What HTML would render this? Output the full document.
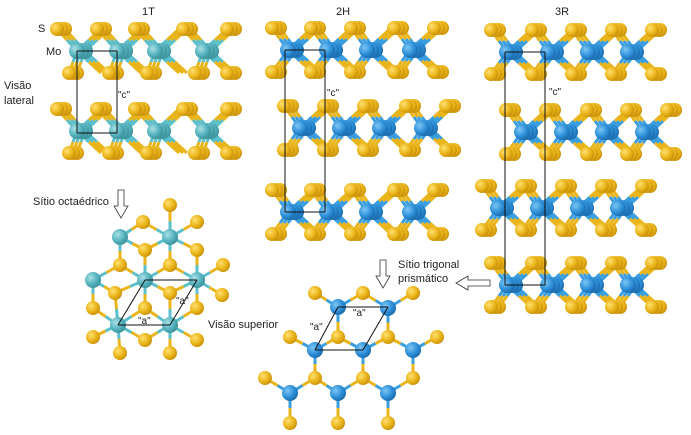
<!DOCTYPE html>
<html><head><meta charset="utf-8">
<style>
html,body{margin:0;padding:0;background:#fff;width:691px;height:435px;overflow:hidden}
svg{position:absolute;left:0;top:0}
text{font-family:"Liberation Sans",sans-serif;fill:#222}
</style></head>
<body>
<svg id="s" width="691" height="435" viewBox="0 0 691 435" xmlns="http://www.w3.org/2000/svg">
<defs>
<radialGradient id="gS" cx="35%" cy="35%" r="70%"><stop offset="0" stop-color="#ffe070"/><stop offset="0.6" stop-color="#eab51a"/><stop offset="1" stop-color="#c8900a"/></radialGradient>
<radialGradient id="gB" cx="35%" cy="35%" r="70%"><stop offset="0" stop-color="#7cc6f4"/><stop offset="0.6" stop-color="#2d8fd8"/><stop offset="1" stop-color="#1a6aaa"/></radialGradient>
<radialGradient id="gT" cx="35%" cy="35%" r="70%"><stop offset="0" stop-color="#a8e0e6"/><stop offset="0.6" stop-color="#54b2bd"/><stop offset="1" stop-color="#3a8f98"/></radialGradient>
</defs>
<g id="bonds"></g><g id="atoms"></g><g id="lines" stroke="#111" stroke-width="1" fill="none"></g>
<text x="142" y="15" font-size="11">1T</text>
<text x="336" y="15" font-size="11">2H</text>
<text x="555" y="15" font-size="11">3R</text>
<text x="38" y="32" font-size="11">S</text>
<text x="46" y="55" font-size="11">Mo</text>
<text x="4" y="89" font-size="11">Visão</text>
<text x="4" y="104" font-size="11">lateral</text>
<text x="118" y="98" font-size="10">"c"</text>
<text x="327" y="96" font-size="10">"c"</text>
<text x="549" y="95" font-size="10">"c"</text>
<text x="33" y="205" font-size="11">Sítio octaédrico</text>
<text x="208" y="328" font-size="11">Visão superior</text>
<text x="398" y="268" font-size="11">Sítio trigonal</text>
<text x="398" y="282" font-size="11">prismático</text>
<text x="138" y="324" font-size="10">"a"</text>
<text x="176" y="304" font-size="10">"a"</text>
<text x="310" y="330" font-size="10">"a"</text>
<text x="353" y="316" font-size="10">"a"</text>
<path d="M118 190h6v16h4l-7 12l-7-12h4z" fill="#fff" stroke="#333" stroke-width="0.8"/>
<path d="M380 260h6v16h4l-7 12l-7-12h4z" fill="#fff" stroke="#333" stroke-width="0.8"/>
<path d="M490 280v6h-22v4l-12-7l12-7v4z" fill="#fff" stroke="#333" stroke-width="0.8"/>
</svg>
<script>
var NS="http://www.w3.org/2000/svg",A=document.getElementById('atoms'),B=document.getElementById('bonds'),L=document.getElementById('lines');
function c(x,y,r,f){var e=document.createElementNS(NS,'circle');e.setAttribute('cx',x);e.setAttribute('cy',y);e.setAttribute('r',r);e.setAttribute('fill',f);A.appendChild(e);}
function bd(x1,y1,x2,y2,col,w){var xm=(x1+x2)/2,ym=(y1+y2)/2;
 [[x1,y1,xm,ym,col],[xm,ym,x2,y2,'#eab51a']].forEach(function(p){var e=document.createElementNS(NS,'line');e.setAttribute('x1',p[0]);e.setAttribute('y1',p[1]);e.setAttribute('x2',p[2]);e.setAttribute('y2',p[3]);e.setAttribute('stroke',p[4]);e.setAttribute('stroke-width',w||3);B.appendChild(e);});}
function ln(x1,y1,x2,y2){var e=document.createElementNS(NS,'line');e.setAttribute('x1',x1);e.setAttribute('y1',y1);e.setAttribute('x2',x2);e.setAttribute('y2',y2);L.appendChild(e);}
function layer(mos,y,mc,bc,tOff,bOff){
 var d=[[8,0],[4,0],[0,0]];
 d.forEach(function(o){
  mos.forEach(function(x){
   bd(x+o[0],y,x+tOff+o[0],y-22,bc);
   bd(x+o[0],y,x+bOff+o[0],y+22,bc);
   bd(x+o[0],y,x+o[0]+24,y-22,bc);
   bd(x+o[0],y,x+o[0]+24,y+22,bc);
  });
 });
 var last=mos[mos.length-1];
 d.forEach(function(o){
  mos.forEach(function(x){c(x+tOff+o[0],y-22,7,'url(#gS)');c(x+bOff+o[0],y+22,7,'url(#gS)');});
  c(last+24+o[0],y-22,7,'url(#gS)');c(last+24+o[0],y+22,7,'url(#gS)');
 });
 d.forEach(function(o){mos.forEach(function(x){c(x+o[0],y,8,mc);});});
}
layer([77,117,155,203],51,'url(#gT)','#5bc0cc',-20,-8);
layer([77,117,155,203],131,'url(#gT)','#5bc0cc',-20,-8);
ln(77,51,117,51);ln(77,133,117,133);ln(77,51,77,133);ln(117,51,117,133);
layer([288,327,367,410],50,'url(#gB)','#3a9ee0',-16,-16);
layer([300,340,380,422],128,'url(#gB)','#3a9ee0',-16,-16);
layer([288,327,367,410],212,'url(#gB)','#3a9ee0',-16,-16);
ln(285,50,325,50);ln(285,212,325,212);ln(285,50,285,212);ln(325,50,325,212);
layer([507,548,588,628],52,'url(#gB)','#3a9ee0',-16,-16);
layer([522,562,603,643],132,'url(#gB)','#3a9ee0',-16,-16);
layer([498,538,578,618],208,'url(#gB)','#3a9ee0',-16,-16);
layer([507,548,588,628],285,'url(#gB)','#3a9ee0',-16,-16);
ln(505,52,545,52);ln(505,285,545,285);ln(505,52,505,285);ln(545,52,545,285);
function topv(mo,s,mc,bc){
 mo.forEach(function(m){s.forEach(function(p){var dx=p[0]-m[0],dy=p[1]-m[1];if(dx*dx+dy*dy<34*34)bd(m[0],m[1],p[0],p[1],bc,3);});});
 s.forEach(function(p){c(p[0],p[1],7,'url(#gS)');});
 mo.forEach(function(p){c(p[0],p[1],8,mc);});
}
topv([[120,237],[170,237],[93,280],[145,280],[197,280],[118,325],[170,325]],
 [[170,205],[143,222],[197,222],[145,250],[197,250],[120,265],[170,265],[223,265],[115,293],[170,293],[222,295],[93,308],[145,308],[197,308],[93,337],[145,340],[197,340],[120,353],[170,353]],'url(#gT)','#5bc0cc');
topv([[338,307],[388,308],[315,350],[363,350],[413,350],[290,393],[338,393],[388,393]],
 [[315,293],[363,293],[413,293],[290,337],[338,337],[388,337],[437,337],[315,378],[363,378],[413,378],[265,378],[290,423],[338,423],[388,423]],'url(#gB)','#3a9ee0');
ln(145,280,197,280);ln(118,325,170,325);ln(145,280,118,325);ln(197,280,170,325);
ln(338,307,388,307);ln(315,350,363,350);ln(338,307,315,350);ln(388,307,363,350);
</script>
</body></html>
